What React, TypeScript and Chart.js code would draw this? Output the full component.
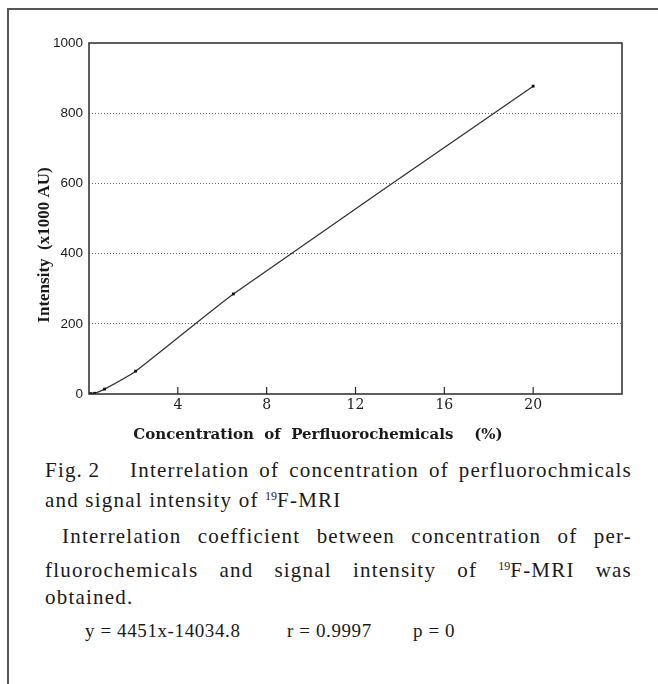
import React, { useEffect, useRef } from "react";
import { Chart, registerables } from "chart.js";

Chart.register(...registerables);

const concentration = [0.03, 0.1, 0.25, 0.7, 2.1, 6.5, 20];
const intensity = [0, 1, 2, 14, 65, 285, 877];
const xTicks = [4, 8, 12, 16, 20];
const yTicks = [0, 200, 400, 600, 800, 1000];
const xTitle = "Concentration  of  Perfluorochemicals    (%)";
const yTitle = "Intensity  (x1000 AU)";

const PLOT_LEFT = 89;
const PLOT_BOTTOM = 394;
const CANVAS_H = 452;

const framePlugin = {
  id: "frame",
  afterDraw(chart: any) {
    const { ctx, chartArea } = chart;
    const xs = chart.scales.x;
    ctx.save();
    ctx.strokeStyle = "#2a2a2a";
    ctx.lineWidth = 1.5;
    ctx.strokeRect(chartArea.left, chartArea.top, chartArea.right - chartArea.left, chartArea.bottom - chartArea.top);
    ctx.lineWidth = 1.2;
    for (const t of xTicks) {
      const px = xs.getPixelForValue(t);
      ctx.beginPath();
      ctx.moveTo(px, chartArea.bottom);
      ctx.lineTo(px, chartArea.bottom - 7);
      ctx.stroke();
    }
    ctx.fillStyle = "#1a1a1a";
    ctx.font = "bold 15px 'DejaVu Serif'";
    ctx.textAlign = "center";
    ctx.textBaseline = "middle";
    ctx.fillText(xTitle, 318, 435);
    ctx.translate(45, 245);
    ctx.rotate(-Math.PI / 2);
    ctx.font = "bold 17px 'Liberation Serif'";
    ctx.fillText(yTitle, 0, 0);
    ctx.restore();
  },
};

function ChartView() {
  const ref = useRef<HTMLCanvasElement>(null);
  useEffect(() => {
    if (!ref.current) return;
    const chart = new Chart(ref.current, {
      type: "scatter",
      data: {
        datasets: [
          {
            data: concentration.map((c, i) => ({ x: c, y: intensity[i] })),
            showLine: true,
            borderColor: "#333",
            borderWidth: 1.3,
            tension: 0.15,
            pointStyle: "rect",
            pointRadius: 2,
            pointBackgroundColor: "#111",
            pointBorderColor: "#111",
            pointBorderWidth: 0,
          },
        ],
      },
      options: {
        animation: false,
        responsive: false,
        maintainAspectRatio: false,
        layout: { padding: { top: 43, right: 36, left: 0, bottom: 0 } },
        plugins: { legend: { display: false }, tooltip: { enabled: false } },
        scales: {
          x: {
            type: "linear",
            min: 0,
            max: 24,
            afterFit: (s: any) => {
              s.height = CANVAS_H - PLOT_BOTTOM;
            },
            afterBuildTicks: (s: any) => {
              s.ticks = [0, ...xTicks, 24].map((v) => ({ value: v }));
            },
            ticks: {
              callback: (v: any) => (xTicks.includes(Number(v)) ? String(v) : ""),
              font: { family: "'DejaVu Serif'", size: 14 },
              color: "#1a1a1a",
              padding: 3,
              maxRotation: 0,
              autoSkip: false,
            },
            grid: { display: false, drawTicks: false },
            border: { display: false },
          },
          y: {
            type: "linear",
            min: 0,
            max: 1000,
            afterFit: (s: any) => {
              s.width = PLOT_LEFT;
            },
            afterBuildTicks: (s: any) => {
              s.ticks = yTicks.map((v) => ({ value: v }));
            },
            ticks: {
              callback: (v: any) => String(v),
              font: { family: "'Liberation Sans'", size: 13.5 },
              color: "#1a1a1a",
              padding: 6,
            },
            grid: {
              drawTicks: false,
              color: (c: any) => (c.tick && (c.tick.value === 0 || c.tick.value === 1000) ? "rgba(0,0,0,0)" : "#666"),
              lineWidth: 1,
            },
            border: { display: false, dash: [1, 2] },
          },
        },
      } as any,
      plugins: [framePlugin],
    });
    return () => chart.destroy();
  }, []);
  return <canvas ref={ref} width={658} height={CANVAS_H} style={{ position: "absolute", left: 0, top: 0, width: 658, height: CANVAS_H }} />;
}

const capStyle: React.CSSProperties = {
  position: "absolute",
  left: 45,
  width: 587,
  fontFamily: "'Liberation Serif', serif",
  fontSize: 21,
  letterSpacing: "1.2px",
  color: "#1a1a1a",
  whiteSpace: "nowrap",
  lineHeight: "22px",
};

const justified: React.CSSProperties = { textAlign: "justify", textAlignLast: "justify", whiteSpace: "normal" };
const supStyle: React.CSSProperties = { fontSize: 12, verticalAlign: "7px", letterSpacing: 0 };
const eqStyle: React.CSSProperties = { fontSize: 19, letterSpacing: "0.6px" };

export default function App() {
  return (
    <div style={{ position: "absolute", left: 0, top: 0, width: 658, height: 684, background: "#fff", overflow: "hidden" }}>
      <div style={{ position: "absolute", left: 7, top: 8, width: 700, height: 700, borderTop: "2px solid #555", borderLeft: "2px solid #555" }} />
      <ChartView />
      <div style={{ ...capStyle, ...justified, top: 459 }}>
        Fig.&thinsp;2&nbsp;&nbsp; Interrelation of concentration of perfluorochmicals
      </div>
      <div style={{ ...capStyle, top: 485 }}>
        and signal intensity of <sup style={supStyle}>19</sup>F-MRI
      </div>
      <div style={{ ...capStyle, ...justified, left: 62, width: 570, top: 525 }}>
        Interrelation coefficient between concentration of per-
      </div>
      <div style={{ ...capStyle, ...justified, top: 555 }}>
        fluorochemicals and signal intensity of <sup style={supStyle}>19</sup>F-MRI was
      </div>
      <div style={{ ...capStyle, top: 586 }}>obtained.</div>
      <div style={{ ...capStyle, ...eqStyle, top: 620, left: 85 }}>y = 4451x-14034.8</div>
      <div style={{ ...capStyle, ...eqStyle, top: 620, left: 287 }}>r = 0.9997</div>
      <div style={{ ...capStyle, ...eqStyle, top: 620, left: 413 }}>p = 0</div>
    </div>
  );
}
